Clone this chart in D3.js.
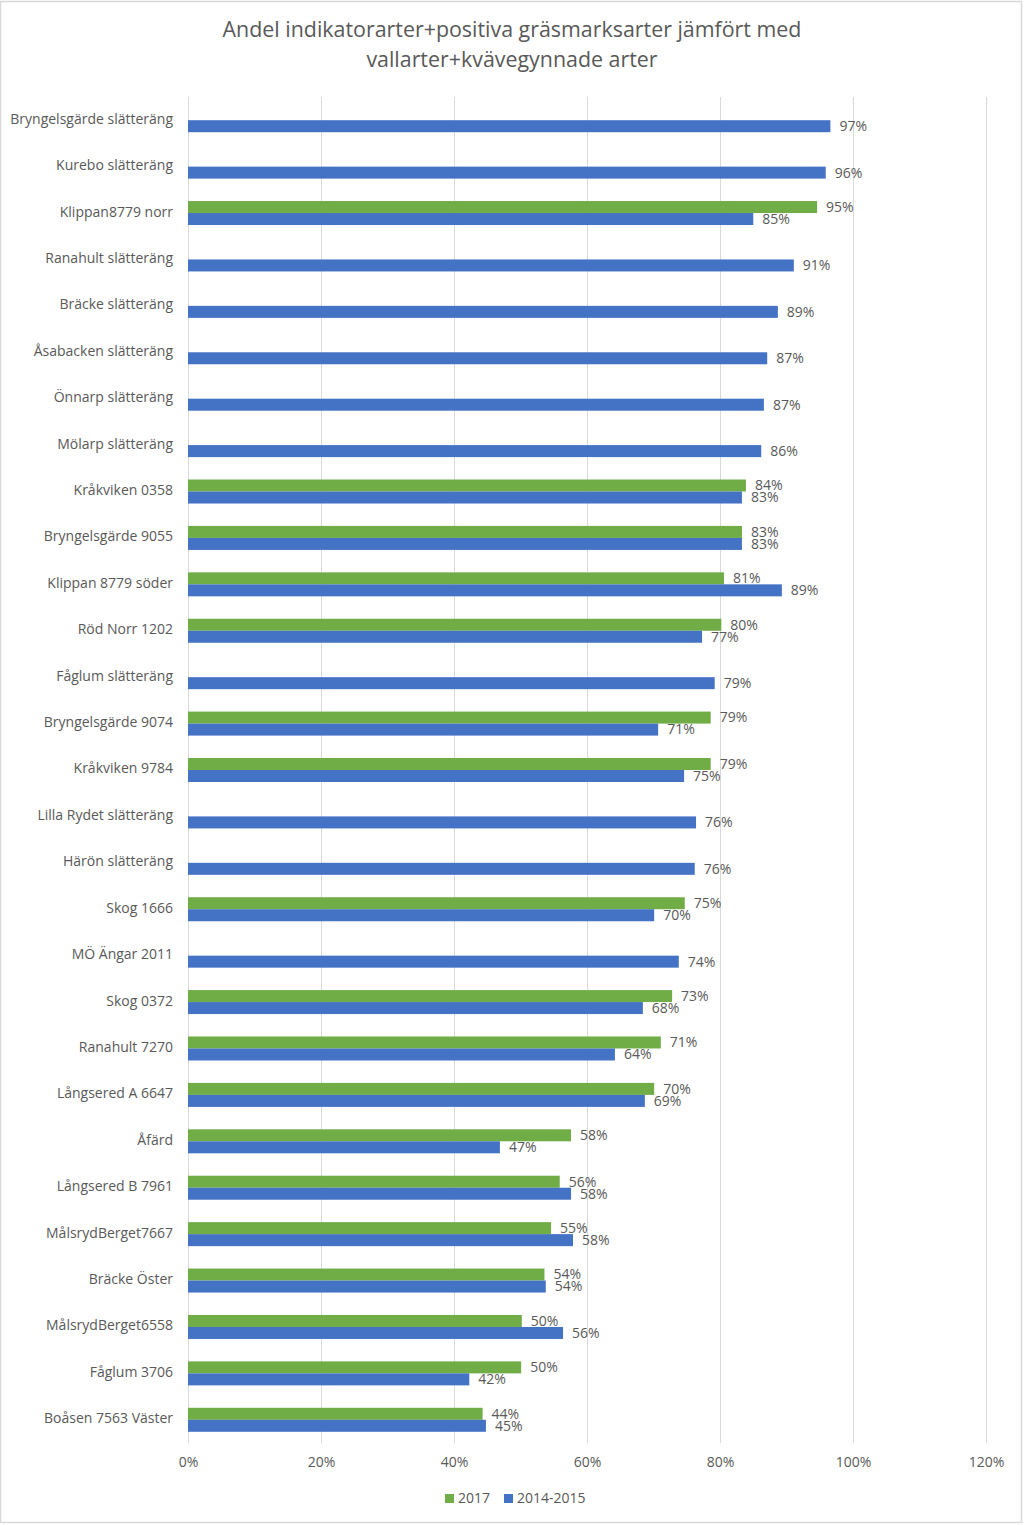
<!DOCTYPE html>
<html>
<head>
<meta charset="utf-8">
<script src="https://cdn.jsdelivr.net/npm/d3@7"></script>
<style>
  html, body { margin: 0; padding: 0; background: #fff; }
  svg { display: block; font-family: "Open Sans", "Noto Sans", sans-serif; }
</style>
</head>
<body>
<svg id="chart" width="1024" height="1525"></svg>
<script>
const categories = [
  "Bryngelsgärde slätteräng", "Kurebo slätteräng", "Klippan8779 norr", "Ranahult slätteräng",
  "Bräcke slätteräng", "Åsabacken slätteräng", "Önnarp slätteräng", "Mölarp slätteräng",
  "Kråkviken 0358", "Bryngelsgärde 9055", "Klippan 8779 söder", "Röd Norr 1202",
  "Fåglum slätteräng", "Bryngelsgärde 9074", "Kråkviken 9784", "Lilla Rydet slätteräng",
  "Härön slätteräng", "Skog 1666", "MÖ Ängar 2011", "Skog 0372", "Ranahult 7270",
  "Långsered A 6647", "Åfärd", "Långsered B 7961", "MålsrydBerget7667", "Bräcke Öster",
  "MålsrydBerget6558", "Fåglum 3706", "Boåsen 7563 Väster"
];
const series2017 = [
  null, null, 94.6, null, null, null, null, null,
  83.9, 83.3, 80.6, 80.2, null, 78.6, 78.6, null,
  null, 74.7, null, 72.8, 71.1, 70.1, 57.6, 55.9, 54.6, 53.6,
  50.2, 50.1, 44.3
];
const series2014 = [
  96.6, 95.9, 85.0, 91.1, 88.7, 87.1, 86.6, 86.2,
  83.3, 83.3, 89.3, 77.3, 79.2, 70.7, 74.6, 76.4,
  76.2, 70.1, 73.8, 68.4, 64.2, 68.7, 46.9, 57.6, 57.9, 53.8,
  56.4, 42.3, 44.8
];
const seriesNames = ["2017", "2014-2015"];
const seriesColors = ["#70AD47", "#4472C4"];
const xTicks = [0, 20, 40, 60, 80, 100, 120];
const titleLines = ["Andel indikatorarter+positiva gräsmarksarter jämfört med", "vallarter+kvävegynnade arter"];

const svg = d3.select("#chart");
const textColor = "#595959";
const fs = 14;

// outer border
svg.append("rect").attr("x", 0.5).attr("y", 1.5).attr("width", 1021).attr("height", 1521)
  .attr("fill", "#fff").attr("stroke", "#d9d9d9").attr("stroke-width", 1.5);

const plot = { left: 188, right: 986, top: 97, bottom: 1443 };

const x = d3.scaleLinear().domain([0, 120]).range([plot.left, plot.right]);
const y = d3.scaleBand().domain(categories).range([plot.top, plot.bottom]).paddingInner(0).paddingOuter(0);
const inner = d3.scaleBand().domain(seriesNames).range([0, 24]);
const rowOffset = (y.bandwidth() - 24) / 2;

// title
svg.append("g").selectAll("text").data(titleLines).join("text")
  .attr("x", 512).attr("y", (d, i) => 37 + i * 30)
  .attr("text-anchor", "middle").attr("font-size", 21.4).attr("fill", textColor)
  .text(d => d);

// gridlines
svg.append("g").selectAll("line").data(xTicks).join("line")
  .attr("x1", d => Math.round(x(d)) + 0.5).attr("x2", d => Math.round(x(d)) + 0.5)
  .attr("y1", plot.top).attr("y2", plot.bottom)
  .attr("stroke", "#d9d9d9").attr("stroke-width", 1);

// x axis labels
const xAxis = d3.axisBottom(x).tickValues(xTicks).tickFormat(d => d + "%").tickSize(0).tickPadding(0);
const xg = svg.append("g").attr("transform", `translate(0, ${plot.bottom + 14})`).call(xAxis);
xg.select(".domain").remove();
xg.selectAll("text").attr("font-size", fs).attr("fill", textColor)
  .attr("font-family", "\"Open Sans\", sans-serif");

// y axis labels
const yAxis = d3.axisLeft(y).tickSize(0).tickPadding(15);
const yg = svg.append("g").attr("transform", `translate(${plot.left}, 0)`).call(yAxis);
yg.select(".domain").remove();
yg.selectAll("text").attr("font-size", fs).attr("fill", textColor)
  .attr("font-family", "\"Open Sans\", sans-serif");
yg.selectAll(".tick").attr("transform", d => `translate(0, ${y(d) + rowOffset + 11})`);

// bars
const allSeries = [series2017, series2014];
allSeries.forEach((vals, si) => {
  const data = categories.map((c, i) => ({ c, v: vals[i] })).filter(d => d.v !== null);
  const g = svg.append("g");
  g.selectAll("rect").data(data).join("rect")
    .attr("x", x(0))
    .attr("y", d => y(d.c) + rowOffset + inner(seriesNames[si]))
    .attr("width", d => x(d.v) - x(0))
    .attr("height", inner.bandwidth())
    .attr("fill", seriesColors[si]);
  g.selectAll("text").data(data).join("text")
    .attr("x", d => x(d.v) + 9)
    .attr("y", d => y(d.c) + rowOffset + inner(seriesNames[si]) + inner.bandwidth() / 2)
    .attr("dy", "0.35em")
    .attr("font-size", fs).attr("fill", textColor)
    .text(d => Math.round(d.v) + "%");
});

// legend
const legendItems = [
  { name: seriesNames[0], color: seriesColors[0], x: 445 },
  { name: seriesNames[1], color: seriesColors[1], x: 504 }
];
const lg = svg.append("g");
legendItems.forEach(it => {
  lg.append("rect").attr("x", it.x).attr("y", 1494).attr("width", 9).attr("height", 9).attr("fill", it.color);
  lg.append("text").attr("x", it.x + 13).attr("y", 1498.5).attr("dy", "0.35em")
    .attr("font-size", fs).attr("fill", textColor).text(it.name);
});
</script>
</body>
</html>
